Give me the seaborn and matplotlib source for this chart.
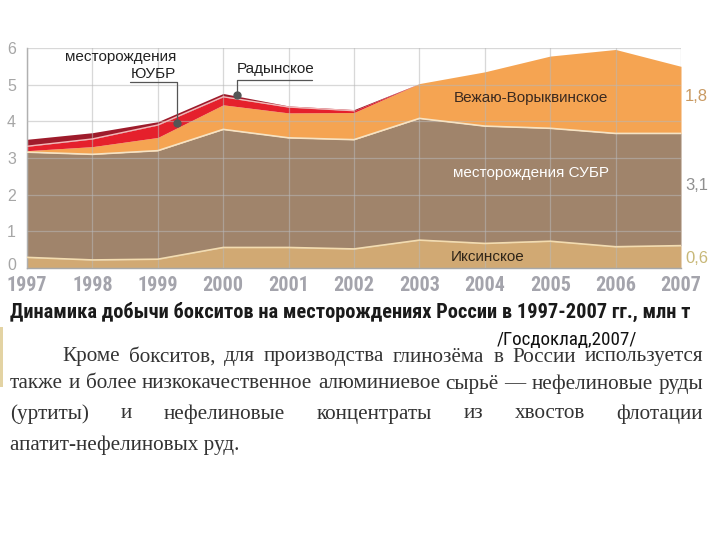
import matplotlib
matplotlib.use("Agg")
import numpy as np
import pandas as pd
import seaborn as sns
import matplotlib.pyplot as plt
from matplotlib import font_manager
from matplotlib.patches import Rectangle
from matplotlib.transforms import ScaledTranslation

# ---------------- data ----------------
years = [1997, 1998, 1999, 2000, 2001, 2002, 2003, 2004, 2005, 2006, 2007]
iksinskoe = [0.29, 0.22, 0.24, 0.56, 0.56, 0.52, 0.76, 0.67, 0.73, 0.58, 0.61]
subr = [2.87, 2.88, 2.96, 3.22, 2.99, 2.98, 3.32, 3.20, 3.08, 3.09, 3.06]
vezhayu = [0.04, 0.21, 0.36, 0.67, 0.68, 0.74, 0.95, 1.48, 1.97, 2.29, 1.83]
yuubr = [0.12, 0.21, 0.34, 0.22, 0.16, 0.05, 0, 0, 0, 0, 0]
radynskoe = [0.19, 0.17, 0.09, 0.09, 0.03, 0.03, 0, 0, 0, 0, 0]
y_ticks = [0, 1, 2, 3, 4, 5, 6]
end_labels = ["1,8", "3,1", "0,6"]

title = "Динамика добычи бокситов на месторождениях России в 1997-2007 гг., млн т"
source = "/Госдоклад,2007/"
para_lines = [
    "Кроме бокситов, для производства глинозёма в России используется",
    "также и более низкокачественное алюминиевое сырьё — нефелиновые руды",
    "(уртиты) и нефелиновые концентраты из хвостов флотации",
    "апатит-нефелиновых руд.",
]

# ---------------- style ----------------
sns.set_theme(style="white")
entries = font_manager.fontManager.ttflist
names = {f.name for f in entries}
if "Liberation Sans Narrow" in names:
    narrow_kw = dict(family=["Liberation Sans Narrow", "DejaVu Sans"])
elif "Roboto Condensed" in names:
    narrow_kw = dict(family=["Roboto Condensed", "DejaVu Sans"])
elif any(f.name == "DejaVu Sans" and str(f.stretch) == "condensed" for f in entries):
    narrow_kw = dict(family=["DejaVu Sans"], fontstretch="condensed")
else:
    narrow_kw = dict(family=["Liberation Sans", "DejaVu Sans"])
plt.rcParams["font.family"] = ["Liberation Sans", "DejaVu Sans"]

W, H = 720, 540
fig = plt.figure(figsize=(7.2, 5.4), dpi=100)
fig.patch.set_facecolor("white")

def fx(px):
    return px / W

def fy(py):
    return 1 - py / H

ax = fig.add_axes([fx(27), fy(268), 654 / W, 220 / H])
colors = ["#d1a973", "#a0846b", "#f5a452", "#e5202c", "#9e1b2b"]
ax.stackplot(years, iksinskoe, subr, vezhayu, yuubr, radynskoe,
             colors=colors, linewidth=0, zorder=1)

df = pd.DataFrame({"year": years, "iks": iksinskoe, "subr": subr,
                   "vez": vezhayu, "yu": yuubr, "rad": radynskoe})
c1 = df["iks"]
c2 = c1 + df["subr"]
c4 = c2 + df["vez"] + df["yu"]
sns.lineplot(x=df["year"], y=c1, color="#f3dcb0", lw=1.2, ax=ax, zorder=3)
sns.lineplot(x=df["year"], y=c2, color="#f6e3c4", lw=1.2, ax=ax, zorder=3)
sns.lineplot(x=df["year"][:6], y=c4[:6], color="#f4b8b8", lw=1.0, ax=ax, zorder=3)

ax.set_xlim(1997, 2007)
ax.set_ylim(0, 6)
ax.set_xticks(years)
ax.set_yticks(y_ticks)
ax.grid(True, color="#b8b8b8", lw=0.9, alpha=0.55, zorder=2)
ax.set_axisbelow(False)
for s in ["top", "right"]:
    ax.spines[s].set_visible(False)
for s in ["left", "bottom"]:
    ax.spines[s].set_color("#a8a8a8")
    ax.spines[s].set_linewidth(1.0)
ax.tick_params(axis="both", which="both", length=4, color="#a8a8a8", width=1,
               direction="out")
ax.tick_params(axis="y", pad=4, labelsize=11.5, labelcolor="#a6a6a6")
ax.tick_params(axis="x", pad=1.5, labelsize=14.5, labelcolor="#a4a4ac")
for lab in ax.get_xticklabels():
    lab.set_fontweight("bold")
    lab.set_family(narrow_kw["family"])
    if "fontstretch" in narrow_kw:
        lab.set_fontstretch(narrow_kw["fontstretch"])
for lab in ax.get_yticklabels():
    lab.set_family(["Liberation Sans", "DejaVu Sans"])
ylabs = ax.get_yticklabels()
ylabs[0].set_transform(ylabs[0].get_transform() +
                       ScaledTranslation(0, 3 / 72, fig.dpi_scale_trans))
ax.set_xlabel("")
ax.set_ylabel("")

# area labels
ax.text(2004.7, 4.63, "Вежаю-Ворыквинское", ha="center", va="center",
        fontsize=11, color="#3b2a20", zorder=5)
ax.text(2004.7, 2.58, "месторождения СУБР", ha="center", va="center",
        fontsize=11, color="white", zorder=5)
ax.text(2004.05, 0.31, "Иксинское", ha="center", va="center",
        fontsize=11, color="#2e2418", zorder=5)

# right end labels
ax.annotate(end_labels[0], xy=(2007, 4.69), xytext=(3, 0), textcoords="offset points",
            ha="left", va="center", fontsize=12, color="#c99a62", annotation_clip=False)
ax.annotate(end_labels[1], xy=(2007, 2.26), xytext=(3, 0), textcoords="offset points",
            ha="left", va="center", fontsize=12, color="#8f8f8f", annotation_clip=False)
ax.annotate(end_labels[2], xy=(2007, 0.27), xytext=(3, 0), textcoords="offset points",
            ha="left", va="center", fontsize=12, color="#c8b878", annotation_clip=False)

# leader annotations
ax.plot([1998.57, 1999.29, 1999.29], [5.08, 5.08, 3.96], color="#555555", lw=0.9,
        clip_on=False, zorder=6)
ax.plot([1999.29], [3.96], "o", color="#555555", ms=5, zorder=6)
ax.plot([2001.36, 2000.21, 2000.21], [5.12, 5.12, 4.72], color="#555555", lw=0.9,
        clip_on=False, zorder=6)
ax.plot([2000.21], [4.72], "o", color="#555555", ms=5, zorder=6)
fig.text(fx(176), fy(57), "месторождения", ha="right", va="center",
         fontsize=11, color="#222222")
fig.text(fx(176), fy(74), "ЮУБР", ha="right", va="center",
         fontsize=11, color="#222222")
fig.text(fx(237), fy(69), "Радынское", ha="left", va="center",
         fontsize=11, color="#222222")

# ---------------- text block ----------------
renderer = fig.canvas.get_renderer()

def text_width(s, **kw):
    t = fig.text(0, 0, s, **kw)
    w = t.get_window_extent(renderer).width
    t.remove()
    return w

def fit_size(s, target, base, **kw):
    w = text_width(s, fontsize=base, **kw)
    return base * target / w

tkw = dict(fontweight="bold", **narrow_kw)
tsize = fit_size(title, 680, 14, **tkw)
fig.text(fx(10), fy(312), title, ha="left", va="center", fontsize=tsize,
         color="#1a1a1a", **tkw)

ssize = fit_size(source, 140, 12, **narrow_kw)
fig.text(fx(497), fy(340), source, ha="left", va="center", fontsize=ssize,
         color="#111111", **narrow_kw)

pkw = dict(family=["Liberation Serif", "DejaVu Serif"])
psize = fit_size(para_lines[3], 228, 13, **pkw)

def justify(line, x0, x1, ypix):
    words = line.split(" ")
    widths = [text_width(w, fontsize=psize, **pkw) for w in words]
    gap = (x1 - x0 - sum(widths)) / (len(words) - 1)
    x = x0
    for w, wd in zip(words, widths):
        fig.text(fx(x), fy(ypix), w, ha="left", va="center", fontsize=psize,
                 color="#333333", **pkw)
        x += wd + gap

justify(para_lines[0], 62, 703, 357)
justify(para_lines[1], 10, 703, 384)
justify(para_lines[2], 10, 703, 414)
fig.text(fx(10), fy(445), para_lines[3], ha="left", va="center", fontsize=psize,
         color="#333333", **pkw)

fig.add_artist(Rectangle((0, fy(387)), fx(3), (387 - 327) / H,
                         transform=fig.transFigure, color="#e3d3a3", lw=0))

fig.savefig("out.png", dpi=100, facecolor="white")
